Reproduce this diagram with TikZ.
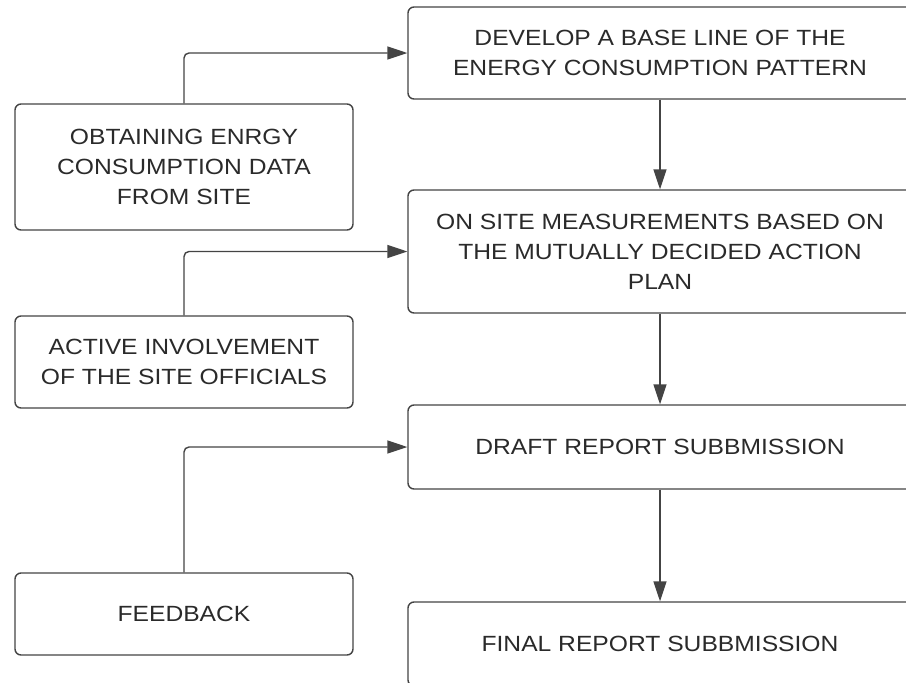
\documentclass[tikz,border=0pt]{standalone}
\usepackage{fontspec}
\setmainfont{Liberation Sans}[FakeStretch=1.12]
\usetikzlibrary{arrows.meta}
\definecolor{ink}{HTML}{2A2A2A}
\definecolor{edge}{HTML}{444444}
\tikzset{
  box/.style={draw=edge, line width=1.4pt, rounded corners=6pt, rectangle, align=center,
    text=ink, font=\fontsize{22}{30}\selectfont, inner sep=0pt},
  lbox/.style={box, minimum width=338pt},
  rbox/.style={box, minimum width=504pt},
  arr/.style={draw=edge, line width=1.4pt, rounded corners=5pt,
    -{Triangle[length=20pt,width=13pt]}}
}
\begin{document}
\begin{tikzpicture}[x=1pt,y=-1pt]
\useasboundingbox (0,0) rectangle (906,683);
\clip (0,0) rectangle (906,683);
\fill[white] (0,0) rectangle (906,683);
% left boxes
\node[lbox, minimum height=126pt] (l1) at (184,167) {OBTAINING ENRGY\\CONSUMPTION DATA\\FROM SITE};
\node[lbox, minimum height=92pt] (l2) at (184,362) {ACTIVE INVOLVEMENT\\OF THE SITE OFFICIALS};
\node[lbox, minimum height=82pt] (l3) at (184,614) {FEEDBACK};
% right boxes
\node[rbox, minimum height=92pt] (r1) at (660,53) {DEVELOP A BASE LINE OF THE\\ENERGY CONSUMPTION PATTERN};
\node[rbox, minimum height=123pt] (r2) at (660,251.5) {ON SITE MEASUREMENTS BASED ON\\THE MUTUALLY DECIDED ACTION\\PLAN};
\node[rbox, minimum height=84pt] (r3) at (660,447) {DRAFT REPORT SUBBMISSION};
\node[rbox, minimum height=84pt] (r4) at (660,644) {FINAL REPORT SUBBMISSION};
% connectors
\draw[arr] (l1.north) |- (r1.west);
\draw[arr] (l2.north) |- (r2.west);
\draw[arr] (l3.north) |- (r3.west);
\draw[arr] (r1.south) -- (r2.north);
\draw[arr] (r2.south) -- (r3.north);
\draw[arr] (r3.south) -- (r4.north);
\end{tikzpicture}
\end{document}
